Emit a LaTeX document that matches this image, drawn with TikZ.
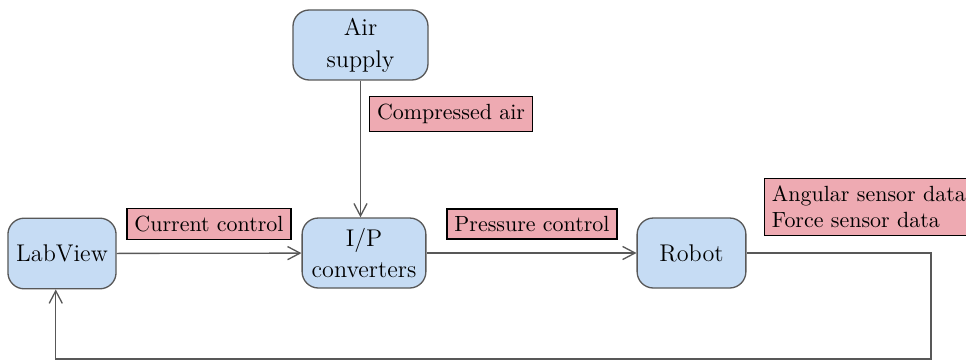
\documentclass[tikz,border=0pt]{standalone}
\usepackage{tikz}
\usetikzlibrary{positioning,arrows.meta,calc}
\definecolor{blockblue}{RGB}{198,220,244}
\definecolor{blockedge}{RGB}{88,88,88}
\definecolor{tagpink}{RGB}{238,170,178}
\tikzset{
  linkarrow/.style={-{Straight Barb[length=2mm, width=2.1mm]}, semithick, blockedge},
  blocknode/.style={draw=blockedge, rounded corners=2.6mm, semithick, fill=blockblue, align=center, inner sep=1pt, font=\fontsize{11}{14.5}\selectfont},
  tagnode/.style={draw=black, semithick, fill=tagpink, align=left}
}

\begin{document}
\begin{tikzpicture}[>=Latex]
      \useasboundingbox (0,0) rectangle (15.456,5.776);
      \node[blocknode, minimum width=2.16cm, minimum height=1.12cm] (air) at (5.768,5.056) {Air\\supply};
      \node[blocknode, minimum width=1.73cm, minimum height=1.13cm] (labview) at (0.992,1.72) {LabView};
      \node[blocknode, minimum width=1.98cm, minimum height=1.12cm] (ip) at (5.824,1.728) {I/P\\converters};
      \node[blocknode, minimum width=1.74cm, minimum height=1.12cm] (robot) at (11.064,1.728) {Robot};
      \node[tagnode] (compressed) at (7.216,3.952) {Compressed air};
      \node[tagnode] (current) at (3.344,2.192) {Current control};
      \node[tagnode] (pressure) at (8.512,2.192) {Pressure control};
      \node[tagnode, anchor=west] (sensors) at (12.224,2.464) {Angular sensor data\\Force sensor data};
      \coordinate (corner) at (14.896,0.032);
      \draw[linkarrow] (air.south) -- (air.south |- ip.north);
      \draw[linkarrow] (labview) -- (ip);
      \draw[linkarrow] (ip) -- (robot);
      \draw[linkarrow] (robot.east) -| (corner) -| ([xshift=-1mm]labview.south);
    \end{tikzpicture}
\end{document}
